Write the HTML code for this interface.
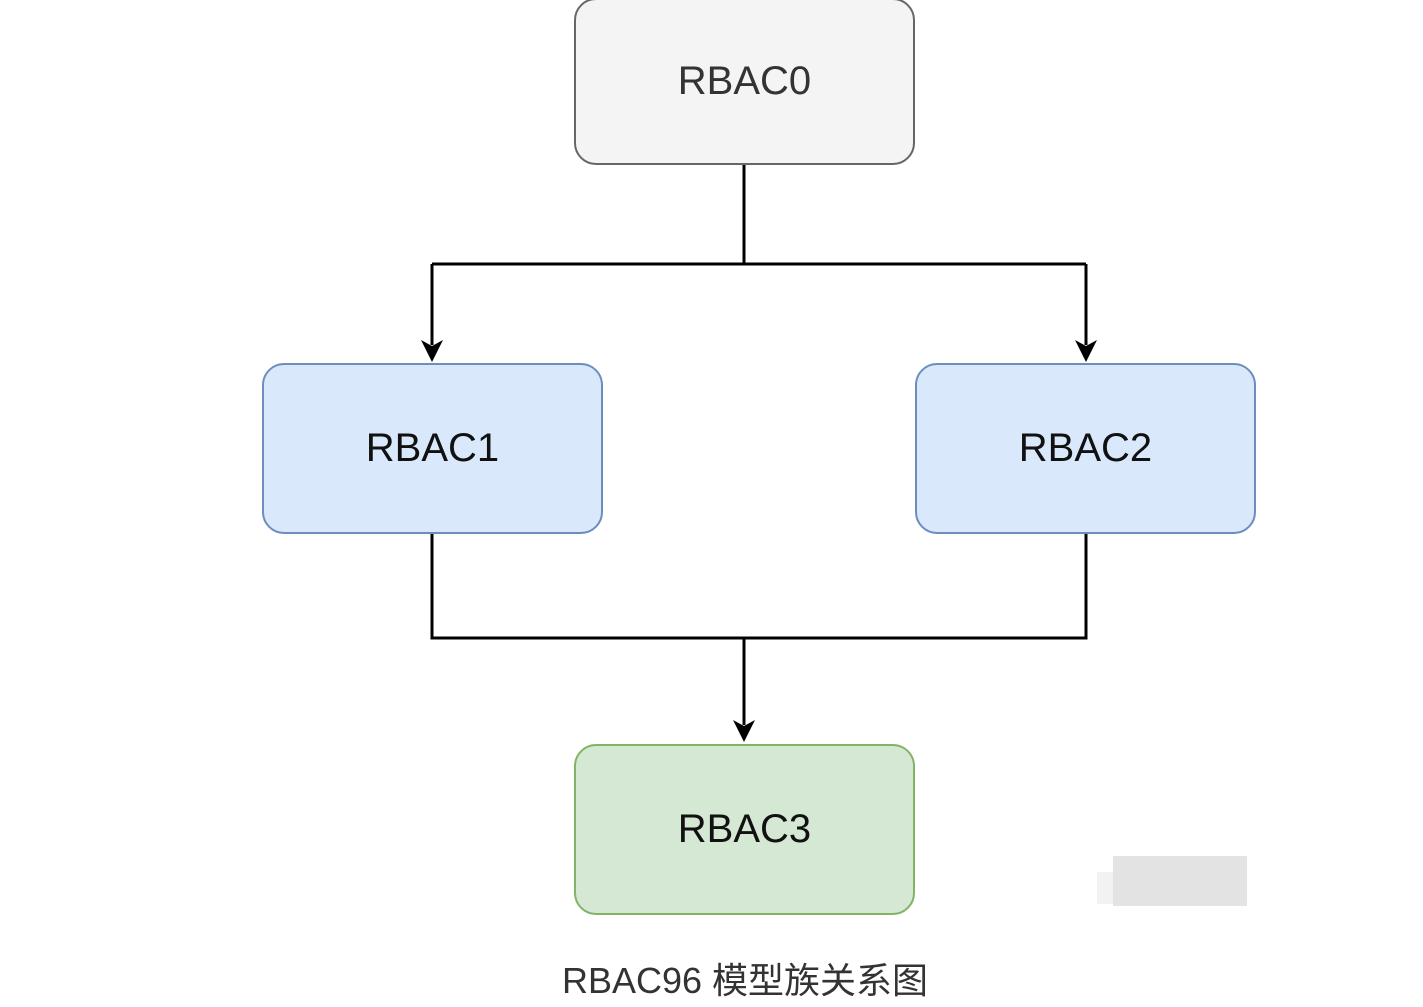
<!DOCTYPE html>
<html><head><meta charset="utf-8"><style>
body{margin:0;width:1423px;height:1007px;background:#fff;position:relative;overflow:hidden;font-family:"Liberation Sans",sans-serif}
.b{position:absolute;box-sizing:border-box;border-radius:22px;border:2px solid;display:flex;align-items:center;justify-content:center;font-size:40px;color:#111}
</style></head><body>
<div class="b" style="left:574px;top:-2px;width:341px;height:167px;background:#f4f4f4;border-color:#666;color:#333">RBAC0</div>
<div class="b" style="left:262px;top:363px;width:341px;height:171px;background:#dae8fc;border-color:#6c8ebf">RBAC1</div>
<div class="b" style="left:915px;top:363px;width:341px;height:171px;background:#dae8fc;border-color:#6c8ebf">RBAC2</div>
<div class="b" style="left:574px;top:744px;width:341px;height:171px;background:#d5e8d4;border-color:#82b366">RBAC3</div>
<svg width="1423" height="1007" style="position:absolute;left:0;top:0">
<g stroke="#000" stroke-width="3" fill="none">
<path d="M744 165V264M432 264H1086M432 264V345M1086 264V345"/>
<path d="M432 534V638H1086V534M744 638V725"/>
</g>
<g fill="#000">
<path d="M421 340L432 362L443 340L432 346Z"/>
<path d="M1075 340L1086 362L1097 340L1086 346Z"/>
<path d="M733 720L744 742L755 720L744 726Z"/>
</g>
<rect x="1113" y="856" width="134" height="50" fill="#e3e3e3"/>
<rect x="1097" y="872" width="16" height="32" fill="#f2f2f2"/>
</svg>
<div style="position:absolute;left:0;width:1490px;top:952px;text-align:center;font-size:36px;color:#333;font-family:'Liberation Sans','Noto Sans CJK SC',sans-serif">RBAC96 模型族关系图</div>
</body></html>
